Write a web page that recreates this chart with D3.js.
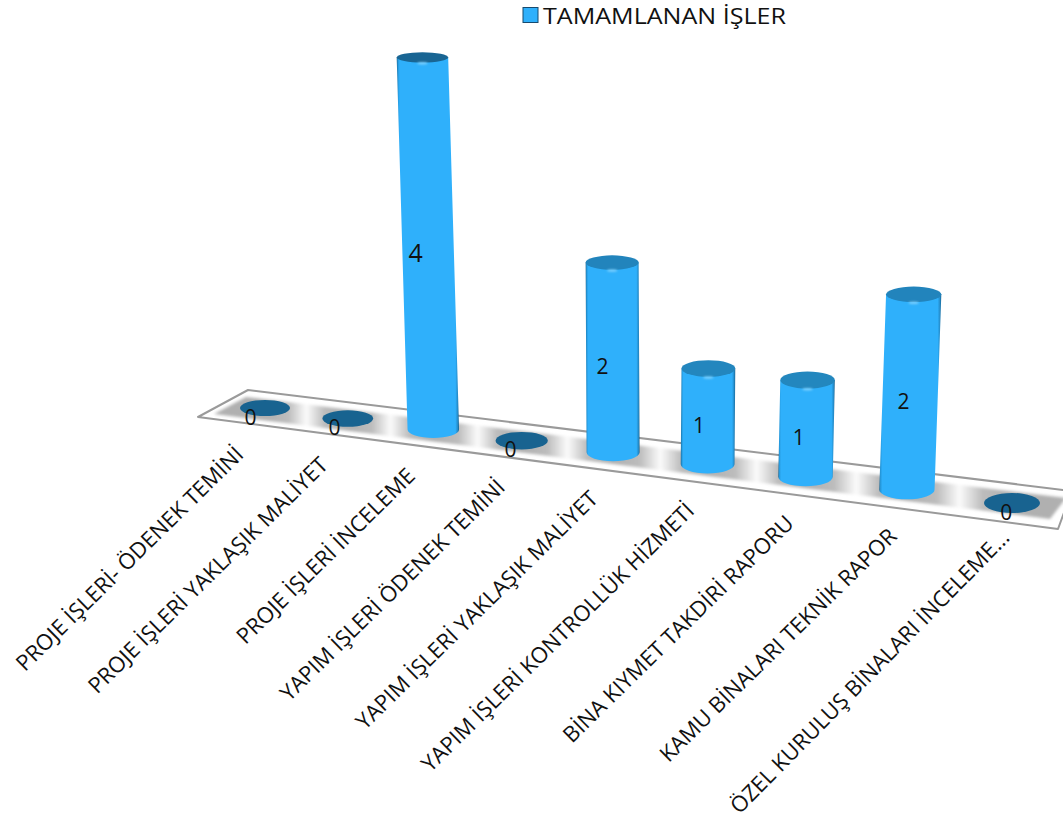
<!DOCTYPE html>
<html lang="tr">
<head>
<meta charset="utf-8">
<script src="https://cdn.jsdelivr.net/npm/d3@7/dist/d3.min.js"></script>
<style>
html,body{margin:0;padding:0;background:#fff;overflow:hidden}
svg{display:block}
text{font-family:"Open Sans",sans-serif;fill:#111}
</style>
</head>
<body>
<svg id="c" width="1063" height="823"></svg>
<script>
const categories = [
  "PROJE İŞLERİ- ÖDENEK TEMİNİ",
  "PROJE İŞLERİ YAKLAŞIK MALİYET",
  "PROJE İŞLERİ İNCELEME",
  "YAPIM İŞLERİ ÖDENEK TEMİNİ",
  "YAPIM İŞLERİ YAKLAŞIK MALİYET",
  "YAPIM İŞLERİ KONTROLLÜK HİZMETİ",
  "BİNA KIYMET TAKDİRİ RAPORU",
  "KAMU BİNALARI TEKNİK RAPOR",
  "ÖZEL KURULUŞ BİNALARI İNCELEME..."
];
const completed = [0, 0, 4, 0, 2, 1, 1, 2, 0];
const seriesName = "TAMAMLANAN İŞLER";

const W = 1063, H = 823;
const svg = d3.select("#c").attr("viewBox", `0 0 ${W} ${H}`);
const defs = svg.append("defs");

// Category position along the floor, with perspective foreshortening
const depth = d3.scaleLinear().domain([0, categories.length - 1]).range([0, 1]);
const persp = t => t / (t + 1.146 * (1 - t));
const floorX = d3.scaleLinear().domain([0, 1]).range([265, 1012]);
const floorY = d3.scaleLinear().domain([265, 1012]).range([408, 503]);
const X = i => floorX(persp(depth(i)));
const Y = i => floorY(X(i));

// Value axis: height in pixels at the reference depth
const valueH = d3.scaleLinear().domain([0, 4]).range([0, 372]);
const heightOf = (v, i) => valueH(v) * (1 + (i - 2) * 0.01);
const leanOf = (h, x) => h * (x - 650) * 0.000135;
const rxBase = d3.scaleLinear().domain([0, 1]).range([25, 28]);
const ryBase = d3.scaleLinear().domain([0, 1]).range([8, 10]);
const topRy = d3.scaleLinear().domain([0, 374]).range([1, 0.6]);
const topFill = d3.scaleLinear().domain([0, 100, 210, 374])
  .range(["#186390", "#2388c0", "#2283bb", "#196592"]);

// Gradients
const body = defs.append("linearGradient").attr("id", "body");
[[0, "#14608c"], [0.02, "#2699dc"], [0.05, "#2fb0fb"], [0.94, "#2fb0fb"], [0.98, "#2389c6"], [1, "#155d88"]]
  .forEach(([o, c]) => body.append("stop").attr("offset", o).attr("stop-color", c));

const band = defs.append("linearGradient").attr("id", "band")
  .attr("gradientUnits", "userSpaceOnUse")
  .attr("x1", 0).attr("x2", W).attr("y1", 0).attr("y2", 0);
categories.forEach((_, i) => {
  band.append("stop").attr("offset", X(i) / W).attr("stop-color", "#b0b0b0");
  if (i < categories.length - 1) {
    const a = X(i) + (X(i + 1) - X(i)) * 0.28, m = (X(i) + X(i + 1)) / 2, b = X(i) + (X(i + 1) - X(i)) * 0.72;
    band.append("stop").attr("offset", a / W).attr("stop-color", "#bcbcbc");
    band.append("stop").attr("offset", m / W).attr("stop-color", "#fbfbfb");
    band.append("stop").attr("offset", b / W).attr("stop-color", "#bcbcbc");
  }
});
defs.append("filter").attr("id", "soft").attr("x", "-5%").attr("y", "-30%").attr("width", "110%").attr("height", "160%")
  .append("feGaussianBlur").attr("stdDeviation", 1.6);
defs.append("filter").attr("id", "glow").attr("x", "-50%").attr("y", "-100%").attr("width", "200%").attr("height", "300%")
  .append("feGaussianBlur").attr("stdDeviation", 1);

// Floor
const line = d3.line().curve(d3.curveLinearClosed);
svg.append("path")
  .attr("d", line([[198, 417], [248, 390], [1072, 491], [1058, 529]]))
  .attr("fill", "#fff").attr("stroke", "#9a9a9a").attr("stroke-width", 2).attr("stroke-linejoin", "round");
svg.append("path")
  .attr("d", line([[214, 414], [246, 397], [1066, 498], [1050, 519]]))
  .attr("fill", "url(#band)").attr("filter", "url(#soft)");

// Cylinders
const cyl = svg.selectAll("g.cyl").data(completed).join("g").attr("class", "cyl");
cyl.each(function (v, i) {
  const g = d3.select(this);
  const t = depth(i), x = X(i), y = Y(i);
  const rx = rxBase(t), ry = ryBase(t);
  const h = heightOf(v, i);
  const tx = x + leanOf(h, x), ty = y - h;
  const trx = rx, tr = ry * topRy(h);
  if (v > 0) {
    const p = d3.path();
    p.moveTo(x - rx, y);
    p.lineTo(tx - trx, ty);
    p.lineTo(tx + trx, ty);
    p.lineTo(x + rx, y);
    g.append("path")
      .attr("d", p.toString() + ` A${rx},${ry} 0 0 1 ${x - rx},${y} Z`)
      .attr("fill", "url(#body)");
  }
  g.append("ellipse").attr("cx", tx).attr("cy", ty).attr("rx", trx).attr("ry", tr)
    .attr("fill", topFill(h));
  if (v > 0) {
    g.append("ellipse").attr("cx", tx).attr("cy", ty + tr + 0.8).attr("rx", 5).attr("ry", 1)
      .attr("fill", "#8fd8ff").attr("filter", "url(#glow)");
  }
});

// Value labels
svg.selectAll("text.val").data(completed).join("text").attr("class", "val")
  .attr("x", (v, i) => { const h = heightOf(v, i); return X(i) + leanOf(h / 2, X(i)) - 14.5 + i * 1.1; })
  .attr("y", (v, i) => Y(i) - heightOf(v, i) / 2 + 9.5)
  .attr("dy", "0.35em")
  .attr("text-anchor", "middle")
  .attr("font-size", v => v === 4 ? 25 : 21)
  .text(v => v);

// Category labels
const last = categories.length - 1;
svg.selectAll("text.cat").data(categories).join("text").attr("class", "cat")
  .attr("transform", (c, i) => {
    const dx = i === last ? 6 : 0, dy = i === last ? 36 : 48, a = i === last ? -45.5 : -44.5;
    return `translate(${X(i) - 20 + i * 1.6 + dx},${Y(i) + dy}) rotate(${a})`;
  })
  .attr("text-anchor", "end")
  .attr("font-size", 22)
  .text(c => c);

// Legend
svg.append("rect").attr("x", 523).attr("y", 7.5).attr("width", 15).attr("height", 15)
  .attr("fill", "#2fb0fb").attr("stroke", "#174a6e").attr("stroke-width", 1);
svg.append("text").attr("x", 543).attr("y", 23.5).attr("font-size", 22)
  .attr("textLength", 243).attr("lengthAdjust", "spacingAndGlyphs").text(seriesName);
</script>
</body>
</html>
